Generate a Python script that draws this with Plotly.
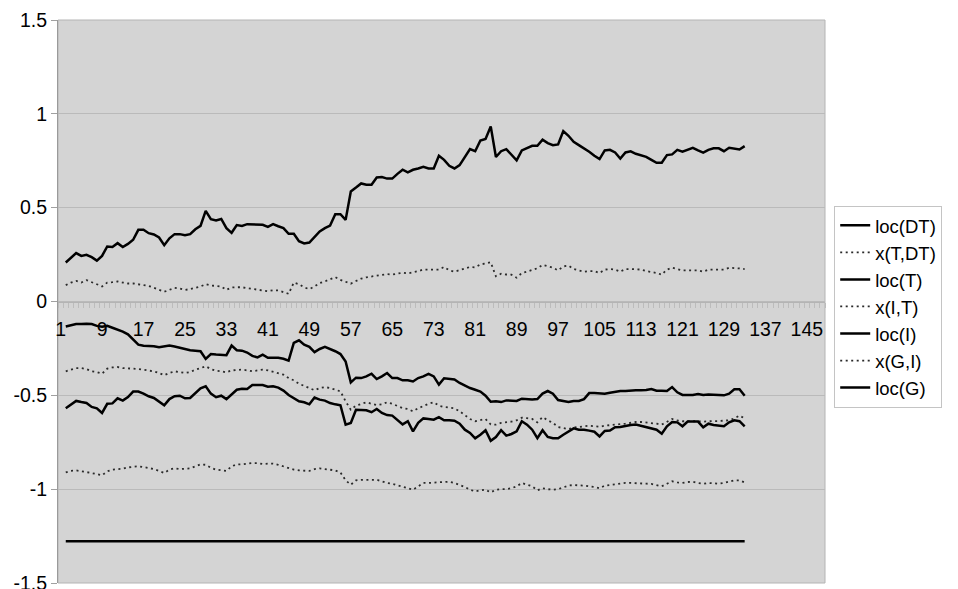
import plotly.graph_objects as go

# categories carrying data (first category is empty in the source chart)
period = list(range(2, 134))

x_tickvals = list(range(1, 146, 8))
x_ticktext = ["1", "9", "17", "25", "33", "41", "49", "57", "65", "73", "81", "89",
              "97", "105", "113", "121", "129", "137", "145"]
y_tickvals = [-1.5, -1.0, -0.5, 0.0, 0.5, 1.0, 1.5]
y_ticktext = ["-1.5", "-1", "-0.5", "0", "0.5", "1", "1.5"]

loc_DT = [
    0.208, 0.233, 0.258, 0.243, 0.249, 0.236, 0.218, 0.243, 0.293, 0.291,
    0.311, 0.290, 0.307, 0.329, 0.382, 0.382, 0.364, 0.357, 0.341, 0.300,
    0.337, 0.359, 0.359, 0.353, 0.359, 0.385, 0.403, 0.483, 0.439, 0.432,
    0.440, 0.391, 0.366, 0.407, 0.403, 0.412, 0.412, 0.412, 0.409, 0.398,
    0.412, 0.401, 0.391, 0.361, 0.361, 0.321, 0.309, 0.314, 0.341, 0.373,
    0.391, 0.405, 0.465, 0.465, 0.435, 0.586, 0.607, 0.629, 0.622, 0.622,
    0.661, 0.663, 0.655, 0.655, 0.680,
    0.702, 0.688, 0.702, 0.709, 0.718, 0.709, 0.709, 0.777, 0.755, 0.723,
    0.709, 0.727, 0.770, 0.812, 0.801, 0.858, 0.866, 0.933, 0.770, 0.801,
    0.812, 0.780, 0.752, 0.805, 0.816, 0.830, 0.830, 0.862, 0.844, 0.833,
    0.837, 0.908, 0.883, 0.851, 0.833, 0.816, 0.798, 0.777, 0.759, 0.805,
    0.808, 0.794, 0.762, 0.794, 0.800, 0.787, 0.780, 0.771, 0.755, 0.739,
    0.739, 0.780, 0.784, 0.808, 0.798, 0.808, 0.819, 0.805, 0.793, 0.808,
    0.816, 0.816, 0.801, 0.819, 0.816, 0.810, 0.828,
]

x_T_DT = [
    0.087, 0.101, 0.110, 0.101, 0.114, 0.101, 0.092, 0.080, 0.101, 0.103,
    0.107, 0.101, 0.096, 0.096, 0.092, 0.087, 0.083, 0.073, 0.062, 0.052,
    0.062, 0.073, 0.069, 0.062, 0.066, 0.073, 0.080, 0.092, 0.085, 0.083,
    0.080, 0.062, 0.075, 0.076, 0.076, 0.071, 0.066, 0.062, 0.059, 0.055,
    0.060, 0.059, 0.050, 0.041, 0.101, 0.092, 0.075, 0.066, 0.080, 0.098,
    0.107, 0.119, 0.130, 0.115, 0.103,
    0.095, 0.109, 0.122, 0.129, 0.134, 0.139, 0.143, 0.146, 0.144, 0.150,
    0.153, 0.150, 0.155, 0.162, 0.170, 0.171, 0.171, 0.170, 0.184, 0.166,
    0.159, 0.166, 0.177, 0.184, 0.182, 0.198, 0.202, 0.209, 0.134, 0.148,
    0.144, 0.143, 0.127, 0.152, 0.159, 0.166, 0.177, 0.195, 0.187, 0.180,
    0.166, 0.187, 0.191, 0.173, 0.166, 0.159, 0.162, 0.162, 0.152, 0.170,
    0.173, 0.170, 0.159, 0.173, 0.173, 0.173, 0.170, 0.162, 0.159, 0.152,
    0.143, 0.170, 0.180, 0.173, 0.166, 0.166, 0.166, 0.166, 0.159, 0.170,
    0.170, 0.170, 0.170, 0.180, 0.180, 0.176, 0.173,
]

loc_T = [
    -0.133, -0.125, -0.120, -0.120, -0.118, -0.120, -0.130, -0.135, -0.130, -0.140,
    -0.150, -0.160, -0.175, -0.200, -0.230, -0.236, -0.236, -0.238, -0.244, -0.240,
    -0.235, -0.240, -0.248, -0.255, -0.260, -0.262, -0.265, -0.306, -0.280, -0.283,
    -0.285, -0.286, -0.235, -0.260, -0.262, -0.272, -0.290, -0.298, -0.283, -0.300,
    -0.300, -0.300, -0.305, -0.315, -0.221, -0.207, -0.230, -0.242, -0.270, -0.253,
    -0.242, -0.253, -0.265, -0.280, -0.320, -0.431, -0.406, -0.408, -0.399, -0.385,
    -0.413, -0.399, -0.381, -0.408, -0.408, -0.420, -0.420, -0.426, -0.408, -0.399,
    -0.386, -0.399, -0.443, -0.409, -0.413, -0.416, -0.434, -0.449, -0.461, -0.470,
    -0.480, -0.502, -0.534, -0.532, -0.536, -0.527, -0.528, -0.530, -0.518, -0.520,
    -0.522, -0.520, -0.491, -0.477, -0.491, -0.525, -0.530, -0.536, -0.530, -0.530,
    -0.520, -0.488, -0.488, -0.491, -0.491, -0.486, -0.480, -0.477, -0.477, -0.473,
    -0.473, -0.473, -0.472, -0.466, -0.475, -0.475, -0.477, -0.456, -0.484, -0.498,
    -0.500, -0.498, -0.493, -0.498, -0.495, -0.497, -0.498, -0.500, -0.491, -0.468,
    -0.468, -0.502,
]

x_I_T = [
    -0.372, -0.363, -0.355, -0.355, -0.360, -0.372, -0.376, -0.385, -0.358, -0.351,
    -0.349, -0.355, -0.355, -0.358, -0.360, -0.363, -0.367, -0.372, -0.381, -0.393,
    -0.381, -0.372, -0.376, -0.381, -0.376, -0.363, -0.355, -0.345, -0.360, -0.369,
    -0.372, -0.378, -0.367, -0.363, -0.363, -0.367, -0.372, -0.367, -0.363, -0.367,
    -0.374, -0.381, -0.390, -0.408, -0.420, -0.438, -0.449, -0.461, -0.473, -0.461,
    -0.456, -0.461, -0.470, -0.479, -0.532,
    -0.577, -0.555, -0.545, -0.537, -0.545, -0.552, -0.548, -0.537, -0.545, -0.555,
    -0.568, -0.573, -0.585, -0.569, -0.555, -0.545, -0.537, -0.555, -0.562, -0.564,
    -0.569, -0.585, -0.608, -0.626, -0.638, -0.633, -0.626, -0.655, -0.656, -0.647,
    -0.644, -0.640, -0.633, -0.619, -0.622, -0.626, -0.644, -0.616, -0.633, -0.647,
    -0.669, -0.674, -0.680, -0.672, -0.667, -0.665, -0.662, -0.665, -0.667, -0.662,
    -0.658, -0.655, -0.653, -0.651, -0.646, -0.642, -0.642, -0.644, -0.645, -0.651,
    -0.656, -0.640, -0.626, -0.633, -0.638, -0.638, -0.637, -0.638, -0.640, -0.637,
    -0.637, -0.637, -0.633, -0.633, -0.623, -0.608, -0.623,
]

loc_I = [
    -0.569, -0.550, -0.530, -0.536, -0.541, -0.562, -0.569, -0.594, -0.545, -0.543,
    -0.516, -0.528, -0.509, -0.480, -0.480, -0.491, -0.505, -0.514, -0.532, -0.553,
    -0.520, -0.505, -0.502, -0.516, -0.514, -0.487, -0.463, -0.452, -0.491, -0.510,
    -0.502, -0.520, -0.493, -0.470, -0.465, -0.466, -0.445, -0.445, -0.445, -0.454,
    -0.452, -0.459, -0.475, -0.498, -0.516, -0.532, -0.537, -0.548, -0.512, -0.523,
    -0.528, -0.541, -0.548, -0.553, -0.656, -0.647, -0.577, -0.578, -0.580, -0.590,
    -0.573, -0.594, -0.605, -0.608, -0.630,
    -0.655, -0.638, -0.692, -0.647, -0.623, -0.626, -0.630, -0.616, -0.633, -0.633,
    -0.635, -0.651, -0.683, -0.700, -0.729, -0.710, -0.686, -0.742, -0.722, -0.686,
    -0.715, -0.706, -0.692, -0.638, -0.656, -0.683, -0.728, -0.686, -0.722, -0.729,
    -0.729, -0.710, -0.692, -0.676, -0.683, -0.683, -0.688, -0.694, -0.719, -0.690,
    -0.688, -0.670, -0.669, -0.662, -0.658, -0.656, -0.662, -0.669, -0.676, -0.683,
    -0.704, -0.665, -0.642, -0.644, -0.665, -0.640, -0.640, -0.640, -0.670, -0.651,
    -0.658, -0.660, -0.665, -0.644, -0.633, -0.638, -0.665,
]

x_G_I = [
    -0.911, -0.902, -0.900, -0.903, -0.909, -0.914, -0.918, -0.926, -0.905, -0.896,
    -0.893, -0.891, -0.884, -0.882, -0.878, -0.882, -0.886, -0.893, -0.903, -0.914,
    -0.896, -0.889, -0.893, -0.893, -0.889, -0.878, -0.868, -0.870, -0.886, -0.896,
    -0.900, -0.903, -0.878, -0.868, -0.868, -0.864, -0.861, -0.861, -0.866, -0.864,
    -0.864, -0.870, -0.878, -0.889, -0.896, -0.900, -0.900, -0.903, -0.893, -0.889,
    -0.893, -0.896, -0.900, -0.911, -0.953, -0.976, -0.953, -0.950, -0.950, -0.950,
    -0.950, -0.958, -0.967, -0.971, -0.978,
    -0.988, -0.995, -1.003, -0.985, -0.967, -0.967, -0.967, -0.963, -0.962, -0.960,
    -0.967, -0.976, -0.988, -1.003, -1.012, -1.006, -1.003, -1.017, -1.003, -1.000,
    -1.000, -0.995, -0.985, -0.967, -0.978, -0.985, -1.006, -0.995, -1.000, -1.003,
    -1.000, -0.992, -0.981, -0.978, -0.978, -0.981, -0.985, -0.988, -0.995, -0.981,
    -0.978, -0.974, -0.971, -0.967, -0.967, -0.967, -0.967, -0.971, -0.972, -0.978,
    -0.985, -0.971, -0.958, -0.964, -0.967, -0.962, -0.960, -0.967, -0.971, -0.967,
    -0.971, -0.971, -0.967, -0.960, -0.953, -0.953, -0.964,
]

loc_G = [-1.278] * len(period)

series = [
    ("loc(DT)", loc_DT, "solid"),
    ("x(T,DT)", x_T_DT, "dot"),
    ("loc(T)", loc_T, "solid"),
    ("x(I,T)", x_I_T, "dot"),
    ("loc(I)", loc_I, "solid"),
    ("x(G,I)", x_G_I, "dot"),
    ("loc(G)", loc_G, "solid"),
]

FONT = "Arial, 'Liberation Sans', sans-serif"

fig = go.Figure()
for name, vals, dash in series:
    if dash == "solid":
        line = dict(color="#000000", width=2.5)
    else:
        line = dict(color="#2a2a2a", width=1.8, dash="2px,3.5px")
    fig.add_trace(go.Scatter(x=period, y=vals, name=name, mode="lines", line=line))

fig.update_layout(
    width=958, height=589,
    margin=dict(l=58, r=133, t=20, b=6, autoexpand=False),
    paper_bgcolor="#ffffff",
    plot_bgcolor="#d4d4d4",
    font=dict(family=FONT, size=19, color="#000000"),
    showlegend=True,
    legend=dict(
        x=1.012, y=0.670, xanchor="left", yanchor="top",
        bgcolor="#ffffff", bordercolor="#c4c4c4", borderwidth=1,
        font=dict(family=FONT, size=18.5, color="#000000"),
        tracegroupgap=0,
    ),
    xaxis=dict(
        range=[0.5, 148.5],
        anchor="free", position=0.5, automargin=False,
        tickmode="array", tickvals=x_tickvals, ticktext=x_ticktext,
        ticks="", showgrid=False, zeroline=False,
        showline=True, linecolor="#b4b4b4", linewidth=1,
        ticklabelstandoff=10,
        tickfont=dict(family=FONT, size=19.5, color="#000000"),
        minor=dict(tick0=0.5, dtick=1, ticks="outside", ticklen=5,
                   tickcolor="#bcbcbc", tickwidth=1, showgrid=False),
    ),
    yaxis=dict(
        range=[-1.5, 1.5], automargin=False,
        tickmode="array", tickvals=y_tickvals, ticktext=y_ticktext,
        ticks="outside", ticklen=6, tickcolor="#a0a0a0",
        showgrid=True, gridcolor="#bababa", gridwidth=1,
        zeroline=False,
        showline=True, linecolor="#9a9a9a", linewidth=1,
        ticklabeloverflow="allow",
        tickfont=dict(family=FONT, size=19.5, color="#000000"),
    ),
    shapes=[dict(type="rect", xref="x domain", yref="y domain",
                 x0=0, x1=1, y0=0, y1=1,
                 line=dict(color="#b4b4b4", width=1), layer="below")],
)

fig.write_html("out.html")
